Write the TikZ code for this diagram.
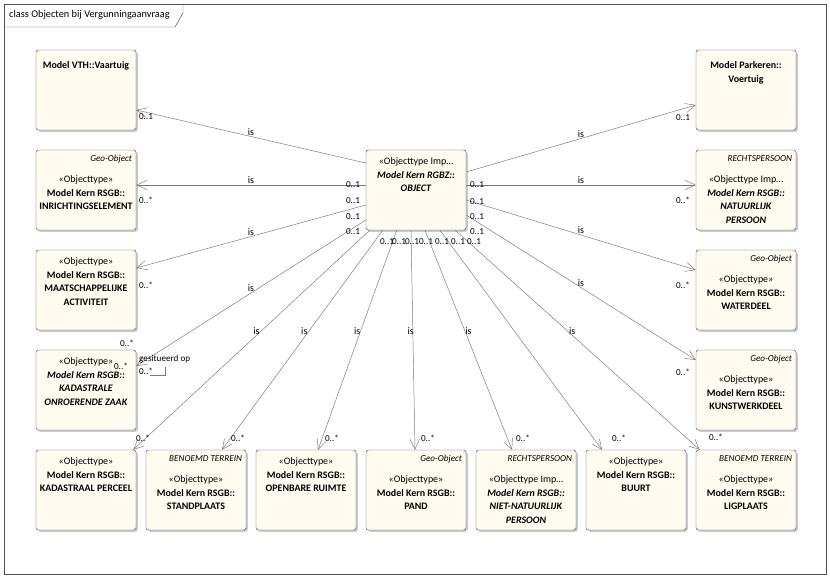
\documentclass[tikz,border=0pt]{standalone}
\usepackage{fontspec}
\setmainfont{Carlito}
\usetikzlibrary{arrows.meta,shadows,calc}

\definecolor{boxfill}{RGB}{255,251,240}
\definecolor{boxline}{RGB}{80,80,96}
\definecolor{linegray}{RGB}{120,120,120}

\tikzset{
  cls/.style={draw=boxline, fill=boxfill, rounded corners=2pt, minimum width=3cm, minimum height=2.4cm,
    drop shadow={shadow xshift=1.5pt, shadow yshift=-1.5pt, fill=black!35, opacity=.6}},
  txt/.style={align=center, inner sep=0pt, anchor=north, font=\fontsize{8.5}{11.5}\selectfont},
  geotag/.style={inner sep=0pt, anchor=east, font=\fontsize{7.8}{9}\selectfont\itshape},
  assoc/.style={draw=linegray, -{Straight Barb[length=3mm,width=2.8mm]}},
  islbl/.style={font=\fontsize{8.5}{9}\selectfont, inner sep=1pt},
  mult/.style={font=\fontsize{7.8}{9}\selectfont, inner sep=0pt},
}

\begin{document}
\begin{tikzpicture}[x=0.03cm, y=-0.03cm]
\fill[white] (0,0) rectangle (830,579);
\useasboundingbox (0,0) rectangle (830,579);

% kader
\draw[boxline] (4,4) rectangle (826,574);
\draw[boxline] (4,27) -- (175,27) -- (183,13) -- (183,4);
\node[anchor=west, inner sep=0pt, font=\fontsize{8.8}{10}\selectfont] (titel) at (9,15) {class Objecten bij Vergunningaanvraag};

% klassen
\node[cls] (obj) at (416,190) {};
\node[cls] (vaartuig) at (86,90) {};
\node[cls] (inricht) at (86,190) {};
\node[cls] (maatsch) at (86,290) {};
\node[cls] (kadastrale) at (86,390) {};
\node[cls] (perceel) at (86,490) {};
\node[cls] (standplaats) at (196,490) {};
\node[cls] (openbare) at (306,490) {};
\node[cls] (pand) at (416,490) {};
\node[cls] (nietnat) at (526,490) {};
\node[cls] (buurt) at (636,490) {};
\node[cls] (ligplaats) at (746,490) {};
\node[cls] (voertuig) at (746,90) {};
\node[cls] (natuurlijk) at (746,190) {};
\node[cls] (waterdeel) at (746,290) {};
\node[cls] (kunstwerk) at (746,390) {};

% teksten
\node[txt] (obj-t) at ($(obj.north)+(0,8)$) {«Objecttype Imp…\\\textbf{\textit{Model Kern RGBZ::}}\\\textbf{\textit{OBJECT}}};
\node[txt] (vaartuig-t) at ($(vaartuig.north)+(0,12)$) {\textbf{Model VTH::Vaartuig}};
\node[geotag] (inricht-g) at ($(inricht.north east)+(-4,9)$) {Geo-Object};
\node[txt] (inricht-t) at ($(inricht.north)+(0,26)$) {«Objecttype»\\\textbf{Model Kern RSGB::}\\\textbf{INRICHTINGSELEMENT}};
\node[txt] (maatsch-t) at ($(maatsch.north)+(0,8)$) {«Objecttype»\\\textbf{Model Kern RSGB::}\\\textbf{MAATSCHAPPELIJKE}\\\textbf{ACTIVITEIT}};
\node[txt] (kadastrale-t) at ($(kadastrale.north)+(0,8)$) {«Objecttype»\\\textbf{\textit{Model Kern RSGB::}}\\\textbf{\textit{KADASTRALE}}\\\textbf{\textit{ONROERENDE ZAAK}}};
\node[txt] (perceel-t) at ($(perceel.north)+(0,8)$) {«Objecttype»\\\textbf{Model Kern RSGB::}\\\textbf{KADASTRAAL PERCEEL}};
\node[geotag] (standplaats-g) at ($(standplaats.north east)+(-4,9)$) {BENOEMD TERREIN};
\node[txt] (standplaats-t) at ($(standplaats.north)+(0,26)$) {«Objecttype»\\\textbf{Model Kern RSGB::}\\\textbf{STANDPLAATS}};
\node[txt] (openbare-t) at ($(openbare.north)+(0,8)$) {«Objecttype»\\\textbf{Model Kern RSGB::}\\\textbf{OPENBARE RUIMTE}};
\node[geotag] (pand-g) at ($(pand.north east)+(-4,9)$) {Geo-Object};
\node[txt] (pand-t) at ($(pand.north)+(0,26)$) {«Objecttype»\\\textbf{Model Kern RSGB::}\\\textbf{PAND}};
\node[geotag] (nietnat-g) at ($(nietnat.north east)+(-4,9)$) {RECHTSPERSOON};
\node[txt] (nietnat-t) at ($(nietnat.north)+(0,26)$) {«Objecttype Imp…\\\textbf{\textit{Model Kern RSGB::}}\\\textbf{\textit{NIET-NATUURLIJK}}\\\textbf{\textit{PERSOON}}};
\node[txt] (buurt-t) at ($(buurt.north)+(0,8)$) {«Objecttype»\\\textbf{Model Kern RSGB::}\\\textbf{BUURT}};
\node[geotag] (ligplaats-g) at ($(ligplaats.north east)+(-4,9)$) {BENOEMD TERREIN};
\node[txt] (ligplaats-t) at ($(ligplaats.north)+(0,26)$) {«Objecttype»\\\textbf{Model Kern RSGB::}\\\textbf{LIGPLAATS}};
\node[txt] (voertuig-t) at ($(voertuig.north)+(0,12)$) {\textbf{Model Parkeren::}\\\textbf{Voertuig}};
\node[geotag] (natuurlijk-g) at ($(natuurlijk.north east)+(-4,9)$) {RECHTSPERSOON};
\node[txt] (natuurlijk-t) at ($(natuurlijk.north)+(0,26)$) {«Objecttype Imp…\\\textbf{\textit{Model Kern RSGB::}}\\\textbf{\textit{NATUURLIJK}}\\\textbf{\textit{PERSOON}}};
\node[geotag] (waterdeel-g) at ($(waterdeel.north east)+(-4,9)$) {Geo-Object};
\node[txt] (waterdeel-t) at ($(waterdeel.north)+(0,26)$) {«Objecttype»\\\textbf{Model Kern RSGB::}\\\textbf{WATERDEEL}};
\node[geotag] (kunstwerk-g) at ($(kunstwerk.north east)+(-4,9)$) {Geo-Object};
\node[txt] (kunstwerk-t) at ($(kunstwerk.north)+(0,26)$) {«Objecttype»\\\textbf{Model Kern RSGB::}\\\textbf{KUNSTWERKDEEL}};

% associaties links
\draw[assoc] ($(obj.west)+(0,-27)$) -- ($(vaartuig.east)+(0,20)$) node[islbl, pos=.5, above] {is};
\draw[assoc] ($(obj.west)+(0,-5)$) -- ($(inricht.east)+(0,-5)$) node[islbl, pos=.5, above] {is};
\draw[assoc] ($(obj.west)+(0,15)$) -- ($(maatsch.east)+(0,-22)$) node[islbl, pos=.5, above] {is};
\draw[assoc] ($(obj.west)+(0,30)$) -- ($(kadastrale.east)+(0,-24)$) node[islbl, pos=.5, above] {is};
% associaties onder
\draw[assoc] ($(obj.south west)+(4,0)$) -- ($(perceel.north east)+(-3,0)$) node[islbl, pos=.46, left] {is};
\draw[assoc] ($(obj.south west)+(17,0)$) -- ($(standplaats.north)+(26,0)$) node[islbl, pos=.46, left=0pt] {is};
\draw[assoc] ($(obj.south west)+(31,0)$) -- ($(openbare.north)+(12,0)$) node[islbl, pos=.46, left=-1pt] {is};
\draw[assoc] ($(obj.south)+(-5,0)$) -- ($(pand.north)+(-1,0)$) node[islbl, pos=.46, left=-2pt] {is};
\draw[assoc] ($(obj.south)+(9,0)$) -- ($(nietnat.north)+(-14,0)$) node[islbl, pos=.46, right=-1pt] {is};
\draw[assoc] ($(obj.south)+(24,0)$) -- ($(buurt.north)+(-34,0)$);
\draw[assoc] ($(obj.south east)+(-11,0)$) -- ($(ligplaats.north west)+(4,0)$) node[islbl, pos=.46, right] {is};
% associaties rechts
\draw[assoc] ($(obj.east)+(0,-18)$) -- ($(voertuig.west)+(0,15)$) node[islbl, pos=.5, above] {is};
\draw[assoc] ($(obj.east)+(0,-5)$) -- ($(natuurlijk.west)+(0,-5)$) node[islbl, pos=.5, above] {is};
\draw[assoc] ($(obj.east)+(0,10)$) -- ($(waterdeel.west)+(0,-20)$) node[islbl, pos=.5, above] {is};
\draw[assoc] ($(obj.east)+(0,25)$) -- ($(kunstwerk.west)+(0,-30)$) node[islbl, pos=.5, above] {is};

% gesitueerd op
\draw[linegray] ($(kadastrale.east)+(14,-15)$) -- ($(kadastrale.east)+(29,-15)$) -- ($(kadastrale.east)+(29,-23)$);
\node[mult, anchor=west] (gesit) at (139,359) {gesitueerd op};
\node[mult] (g-m1) at (121,366) {0..*};
\node[mult] (g-m2) at (146,371) {0..*};

% multipliciteiten
\node[mult] (s-inr) at (353,185) {0..1};
\node[mult] (s-maa) at (353,201) {0..1};
\node[mult] (s-kad) at (353,217) {0..1};
\node[mult] (s-per) at (353,232) {0..1};
\node[mult] (s-nat) at (477,185) {0..1};
\node[mult] (s-wat) at (477,202) {0..1};
\node[mult] (s-kun) at (477,217) {0..1};
\node[mult] (s-lig) at (477,232) {0..1};
\node[mult] (s-b1) at (387,242) {0..1};
\node[mult] (s-b2) at (399,242) {0..1};
\node[mult] (s-b3) at (412,242) {0..1};
\node[mult] (s-b4) at (426,242) {0..1};
\node[mult] (s-b5) at (442,242) {0..1};
\node[mult] (s-b6) at (458,242) {0..1};
\node[mult] (s-b7) at (474,242) {0..1};
\node[mult] (m-va) at (146,117) {0..1};
\node[mult] (m-inr) at (146,200) {0..*};
\node[mult] (m-maa) at (146,285) {0..*};
\node[mult] (m-kad) at (127,343) {0..*};
\node[mult] (m-per) at (143,438) {0..*};
\node[mult] (m-sta) at (238,438) {0..*};
\node[mult] (m-opr) at (332,438) {0..*};
\node[mult] (m-pan) at (428,438) {0..*};
\node[mult] (m-nnp) at (523,438) {0..*};
\node[mult] (m-buu) at (619,438) {0..*};
\node[mult] (m-lig) at (716,437) {0..*};
\node[mult] (m-vo) at (683,118) {0..1};
\node[mult] (m-nat) at (683,200) {0..*};
\node[mult] (m-wat) at (683,285) {0..*};
\node[mult] (m-kun) at (683,372) {0..*};
\end{tikzpicture}
\end{document}
